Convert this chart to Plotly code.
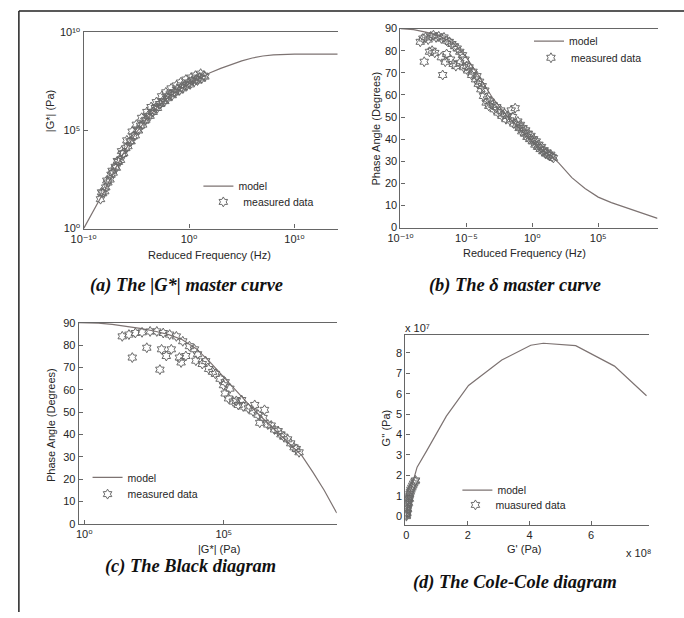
import numpy as np
import plotly.graph_objects as go

W, H = 684, 618

# ---------------- (a) |G*| master curve (log10 values) ----------------
a_model_logf = [-10, -9, -8, -7, -6, -5, -4, -3, -2, -1, 0, 1, 2, 3, 4, 5, 6, 7, 8, 9, 10, 12, 14.1]
a_model_logG = [0, 0.95, 1.95, 3.05, 4.05, 4.9, 5.6, 6.2, 6.68, 7.05, 7.38, 7.65, 7.95, 8.17, 8.37,
                8.55, 8.7, 8.8, 8.86, 8.89, 8.9, 8.9, 8.9]
a_data_logf = [-8.4, -8.2, -8.0, -7.9, -7.7, -7.5, -7.4, -7.2, -7.0, -6.9, -6.7, -6.5, -6.3, -6.2,
               -6.0, -5.8, -5.6, -5.5, -5.3, -5.1, -4.9, -4.8, -4.6, -4.4, -4.2, -4.1, -3.9, -3.7,
               -3.5, -3.4, -3.2, -3.0, -2.8, -2.7, -2.5, -2.3, -2.1, -2.0, -1.8, -1.6, -1.4, -1.3,
               -1.1, -0.9, -0.7, -0.6, -0.4, -0.2, 0.0, 0.1, 0.3, 0.5, 0.7, 0.8, 1.0, 1.2, 1.4, 1.5,
               -8.3, -7.8, -7.3, -6.8, -6.4, -5.9, -5.4, -5.0, -4.5, -4.0, -3.6, -3.1, -2.6, -2.2,
               -1.7, -1.2, -0.8, -0.3, 0.2, 0.6, 1.1]
a_data_logG = [1.5, 1.8, 1.9, 2.1, 2.35, 2.5, 2.75, 2.85, 3.15, 3.1, 3.4, 3.5, 3.8, 3.85,
               4.1, 4.2, 4.45, 4.45, 4.7, 4.75, 5.05, 5.0, 5.25, 5.3, 5.5, 5.55, 5.75, 5.75,
               5.95, 5.95, 6.15, 6.15, 6.35, 6.35, 6.5, 6.5, 6.7, 6.65, 6.85, 6.8, 6.95, 6.95,
               7.1, 7.05, 7.2, 7.15, 7.3, 7.3, 7.45, 7.35, 7.55, 7.5, 7.6, 7.55, 7.7, 7.65, 7.8, 7.75,
               1.85, 2.45, 2.95, 3.45, 3.95, 4.5, 4.95, 5.3, 5.65, 5.95, 6.2, 6.45, 6.75, 6.95,
               7.15, 7.3, 7.45, 7.6, 7.7, 7.8, 7.9]

# ---------------- (b) phase angle master curve ----------------
b_model_logf = [-10, -9, -8, -7, -6, -5, -4, -3, -2, -1, 0, 1, 1.6, 2, 3, 4, 5, 6, 7, 8, 9, 9.5]
b_model_phase = [90, 89.5, 88.3, 86.5, 83.5, 77, 68, 58.5, 51, 45, 39, 34, 31.5, 29.3, 22.6, 17.7,
                 13.8, 11.3, 9.3, 7.2, 5.2, 4.2]
b_data_logf = [-8.5, -8.3, -8.1, -7.9, -7.7, -7.5, -7.3, -7.1, -6.9, -6.7, -6.5, -6.3, -6.1, -5.9,
               -5.7, -5.5, -5.3,
               -8.2, -7.8, -7.4, -6.8, -6.6, -6.5, -6.2, -6.0, -5.8, -5.5, -5.2, -6.9, -7.6,
               -5.1, -5.0, -4.9, -4.8, -4.6, -4.5, -4.3, -4.2, -4.1, -4.0, -3.9, -3.8, -3.7, -3.6,
               -3.5, -3.4, -3.3, -3.2, -3.0, -2.9, -2.7, -2.6, -2.4, -2.3, -2.1, -2.0, -1.9, -1.7,
               -1.6, -1.5, -1.4, -1.3, -1.2, -1.1, -1.0, -0.9, -0.8, -0.7, -0.6, -0.5, -0.4, -0.3,
               -0.2, -0.1, 0.0, 0.1, 0.2, 0.3, 0.4, 0.5, 0.6, 0.7, 0.8, 0.9, 1.0, 1.1, 1.2, 1.3,
               1.4, 1.5, 1.6]
b_data_phase = [84, 85.5, 86, 85, 86.5, 87, 86, 86.5, 85.5, 86, 84.5, 84, 83, 82,
                81, 79.5, 78,
                75, 79.5, 79, 69, 75, 78.5, 76, 74, 73, 74.5, 72.5, 77, 80,
                76, 73, 71, 72.5, 69, 70.5, 67, 68.5, 65, 66, 62.5, 64, 59.5, 62,
                56.5, 58, 55, 57, 55.5, 53.5, 54.5, 52, 53, 50.5, 51.5, 49, 50.5, 48.5,
                53, 50, 47, 54, 46.5, 48, 45, 46.5, 43.5, 45, 42.5, 44, 41, 42.5,
                40, 41.5, 39, 40, 37.5, 39, 36.5, 37.5, 35.5, 36.5, 34.5, 35, 33.5, 34, 33, 32.5,
                33, 32, 31.5]

# ---------------- (c) Black diagram ----------------
c_model_logG = [-0.2, 0.5, 1.0, 1.5, 2.0, 2.5, 3.0, 3.5, 4.0, 4.5, 5.0, 5.5, 6.0, 6.5, 7.0, 7.5,
                7.8, 8.2, 8.6, 9.05]
c_model_phase = [90, 89.8, 89.3, 88.5, 87.5, 86.3, 84.8, 82.5, 78.5, 72.5, 65.5, 58.5, 52, 46, 40,
                 34, 30.5, 23, 15, 4.8]
c_data_logG = [1.36, 1.6, 1.83, 2.07, 2.36, 2.6, 2.83, 3.06, 3.3, 3.53, 3.77, 3.95, 4.06,
               1.72, 2.24, 2.77, 2.71, 2.94, 3.12, 3.41, 3.64, 3.47,
               4.0, 4.23, 4.46, 4.7, 4.87, 4.99, 5.05, 5.17, 5.34, 5.52, 5.7, 5.88, 6.05, 6.23,
               6.41, 6.58, 6.82, 7.05, 7.29, 7.52, 7.7,
               5.05, 5.22, 5.64, 6.11, 6.46, 6.29, 4.35, 4.6, 5.45, 6.7, 6.95, 7.15, 7.4, 7.6]
c_data_phase = [83.9, 84.7, 85.4, 85.7, 86.1, 86.1, 85.4, 84.7, 83.9, 81.7, 79.5, 78.1, 75.9,
                74.4, 78.8, 78.1, 69.0, 75.1, 78.1, 74.4, 75.1, 72.2,
                73.0, 71.5, 69.3, 67.1, 64.9, 62.0, 58.3, 56.1, 54.7, 53.2, 52.5, 51.7, 50.3, 48.8,
                47.4, 44.4, 42.2, 40.0, 37.8, 34.2, 32.0,
                63.4, 60.5, 55.4, 53.2, 51.0, 45.2, 72.8, 68.0, 55.0, 44.0, 41.5, 39.0, 36.0, 33.5]

# ---------------- (d) Cole-Cole diagram (G' in 1e8 Pa, G'' in 1e7 Pa) ----------------
d_model_Gp = [0, 0.03, 0.1, 0.2, 0.35, 0.66, 1.3, 2.02, 3.1, 4.04, 4.45, 5.5, 6.76, 7.8]
d_model_Gpp = [0, 0.3, 1.0, 1.6, 2.4, 3.2, 4.9, 6.4, 7.65, 8.37, 8.47, 8.35, 7.35, 5.9]
d_data_Gp = [0.0, 0.002, 0.005, 0.01, 0.015, 0.02, 0.03, 0.04, 0.05, 0.06, 0.075, 0.09, 0.11,
             0.13, 0.15, 0.18, 0.21, 0.24, 0.28, 0.3, 0.02, 0.04, 0.07, 0.1]
d_data_Gpp = [0.0, 0.05, 0.12, 0.2, 0.3, 0.4, 0.5, 0.6, 0.7, 0.8, 0.9, 1.0, 1.1,
              1.2, 1.3, 1.4, 1.5, 1.6, 1.7, 1.75, 0.15, 0.35, 0.65, 0.85]

captions = ["<b><i>(a) The |G*| master curve</i></b>",
            "<b><i>(b) The \u03b4 master curve</i></b>",
            "<b><i>(c) The Black diagram</i></b>",
            "<b><i>(d) The Cole-Cole diagram</i></b>"]
legend_model = "model"
legend_data = ["measured data", "measured data", "measured data", "muasured data"]

# power-of-ten tick labels (unicode superscripts)
a_xticks = ["10\u207b\u00b9\u2070", "10\u2070", "10\u00b9\u2070"]
a_yticks = ["10\u2070", "10\u2075", "10\u00b9\u2070"]
b_xticks = ["10\u207b\u00b9\u2070", "10\u207b\u2075", "10\u2070", "10\u2075"]
c_xticks = ["10\u2070", "10\u2075"]
d_yfactor = "x 10\u2077"
d_xfactor = "x 10\u2078"

# ---------------- styling ----------------
MODEL_C = "#7d7372"
MARK_C = "#6a6a6a"
AXIS_C = "#666666"
TXT_C = "#262626"
SANS = "Liberation Sans, DejaVu Sans, Arial, sans-serif"
SERIF = "Liberation Serif, Times New Roman, serif"


def px(x):
    return x / W


def py(y):
    return 1 - y / H


def pow10(v):
    return [10 ** t for t in v]


fig = go.Figure()

marker = dict(symbol="hexagram-open", size=7.5, color=MARK_C, line=dict(width=1, color=MARK_C))
line = dict(color=MODEL_C, width=1.2)

panels = [
    (pow10(a_model_logf), pow10(a_model_logG), pow10(a_data_logf), pow10(a_data_logG)),
    (pow10(b_model_logf), b_model_phase, pow10(b_data_logf), b_data_phase),
    (pow10(c_model_logG), c_model_phase, pow10(c_data_logG), c_data_phase),
    (d_model_Gp, d_model_Gpp, d_data_Gp, d_data_Gpp),
]
for i, (mx, my, dx, dy) in enumerate(panels):
    ax = "" if i == 0 else str(i + 1)
    fig.add_trace(go.Scatter(x=mx, y=my, mode="lines", line=line, name=legend_model,
                             xaxis="x" + ax, yaxis="y" + ax,
                             legend="legend" if i == 0 else "legend%d" % (2 * i + 1)))
    fig.add_trace(go.Scatter(x=dx, y=dy, mode="markers", marker=marker, name=legend_data[i],
                             xaxis="x" + ax, yaxis="y" + ax, legend="legend%d" % (2 * i + 2)))

tickfont = dict(family=SANS, size=11, color=TXT_C)


def xax(dom, anchor, **kw):
    d = dict(domain=dom, anchor=anchor, showgrid=False, zeroline=False, showline=True,
             linecolor=AXIS_C, linewidth=1.3, mirror=True, ticks="inside", ticklen=4,
             tickcolor=AXIS_C, tickfont=tickfont)
    d.update(kw)
    return d


def yax(dom, anchor, **kw):
    d = dict(domain=dom, anchor=anchor, showgrid=False, zeroline=False, showline=True,
             linecolor=AXIS_C, linewidth=1.3, mirror=False, ticks="inside", ticklen=4,
             tickcolor=AXIS_C, tickfont=tickfont)
    d.update(kw)
    return d


def yright(over, anchor, **kw):
    # right-hand inward tick marks of the (cropped) box
    d = dict(overlaying=over, anchor=anchor, side="right", showgrid=False, zeroline=False,
             showline=False, ticks="inside", ticklen=3, tickcolor=AXIS_C, showticklabels=False)
    d.update(kw)
    return d


phase_ticks = list(range(0, 91, 10))

layout = dict(
    width=W, height=H, margin=dict(l=0, r=0, t=0, b=0),
    paper_bgcolor="white", plot_bgcolor="white",
    xaxis=xax([px(72), px(331)], "y", type="log", range=[-10, 14.1],
              tickvals=[1e-10, 1, 1e10], ticktext=a_xticks),
    yaxis=yax([py(227), py(27)], "x", type="log", range=[0, 10],
              tickvals=[1, 1e5, 1e10], ticktext=a_yticks),
    xaxis2=xax([px(395), px(657)], "y2", type="log", range=[-10, 9.5],
               tickvals=[1e-10, 1e-5, 1, 1e5], ticktext=b_xticks),
    yaxis2=yax([py(226), py(23)], "x2", range=[0, 90], tickvals=phase_ticks),
    xaxis3=xax([px(67), px(330)], "y3", type="log", range=[-0.2, 9.05],
               tickvals=[1, 1e5], ticktext=c_xticks),
    yaxis3=yax([py(528), py(323)], "x3", range=[0, 90], tickvals=phase_ticks),
    xaxis4=xax([px(400), px(648)], "y4", range=[-0.03, 7.87], tickvals=[0, 2, 4, 6]),
    yaxis4=yax([py(529), py(336)], "x4", range=[-0.42, 8.85], tickvals=list(range(0, 9))),
    yaxis5=yright("y", "x", type="log", range=[0, 10], tickvals=[1, 1e5, 1e10]),
    yaxis6=yright("y2", "x2", range=[0, 90], tickvals=phase_ticks),
    yaxis7=yright("y3", "x3", range=[0, 90], tickvals=phase_ticks),
    yaxis8=yright("y4", "x4", range=[-0.42, 8.85], tickvals=list(range(0, 9))),
    showlegend=True,
)

legfont = dict(family=SANS, size=10.5, color=TXT_C)
leg_pos = [(235, 182), (240, 198), (572, 34), (574, 51),
           (122, 479), (122, 496), (499, 492), (497, 507)]
for k, (tx, ty) in enumerate(leg_pos):
    key = "legend" if k == 0 else "legend%d" % (k + 1)
    layout[key] = dict(x=px(tx - 46), y=py(ty - 13), xanchor="left", yanchor="top",
                       bgcolor="rgba(0,0,0,0)", font=legfont, borderwidth=0, itemwidth=30)

fig.update_layout(**layout)

ann = []
afont = dict(family=SANS, size=11, color=TXT_C)
for text, x, y, rot in [("|G*| (Pa)", 38, 107, -90), ("Reduced Frequency (Hz)", 200, 254, 0),
                        ("Phase Angle (Degrees)", 370, 125, -90), ("Reduced Frequency (Hz)", 521, 252, 0),
                        ("Phase Angle (Degrees)", 38, 427, -90), ("|G*| (Pa)", 210, 554, 0),
                        ("G'' (Pa)", 380, 430, -90), ("G' (Pa)", 521, 554, 0)]:
    ann.append(dict(text=text, x=px(x), y=py(y), xref="paper", yref="paper", showarrow=False,
                    textangle=rot, font=afont, xanchor="center", yanchor="middle"))
ann.append(dict(text=d_yfactor, x=px(398), y=py(328), xref="paper", yref="paper",
                showarrow=False, font=afont, xanchor="left", yanchor="middle"))
ann.append(dict(text=d_xfactor, x=px(623), y=py(558), xref="paper", yref="paper",
                showarrow=False, font=afont, xanchor="left", yanchor="middle"))
capfont = dict(family=SERIF, size=18.4, color="#111111")
for text, x, y in zip(captions, [177, 512, 181, 512], [285, 285, 572, 588]):
    ann.append(dict(text=text, x=px(x), y=py(y), xref="paper", yref="paper", showarrow=False,
                    font=capfont, xanchor="center", yanchor="middle"))
fig.update_layout(annotations=ann)

fig.update_layout(shapes=[
    dict(type="line", xref="paper", yref="paper", x0=px(6), x1=1, y0=py(5), y1=py(5),
         line=dict(color="#222222", width=1.5)),
    dict(type="line", xref="paper", yref="paper", x0=px(6), x1=px(6), y0=py(5), y1=0,
         line=dict(color="#222222", width=1.5)),
])

fig.write_html("out.html", config={"displayModeBar": False},
               post_script="document.body.style.margin='0';document.body.style.overflow='hidden';")
